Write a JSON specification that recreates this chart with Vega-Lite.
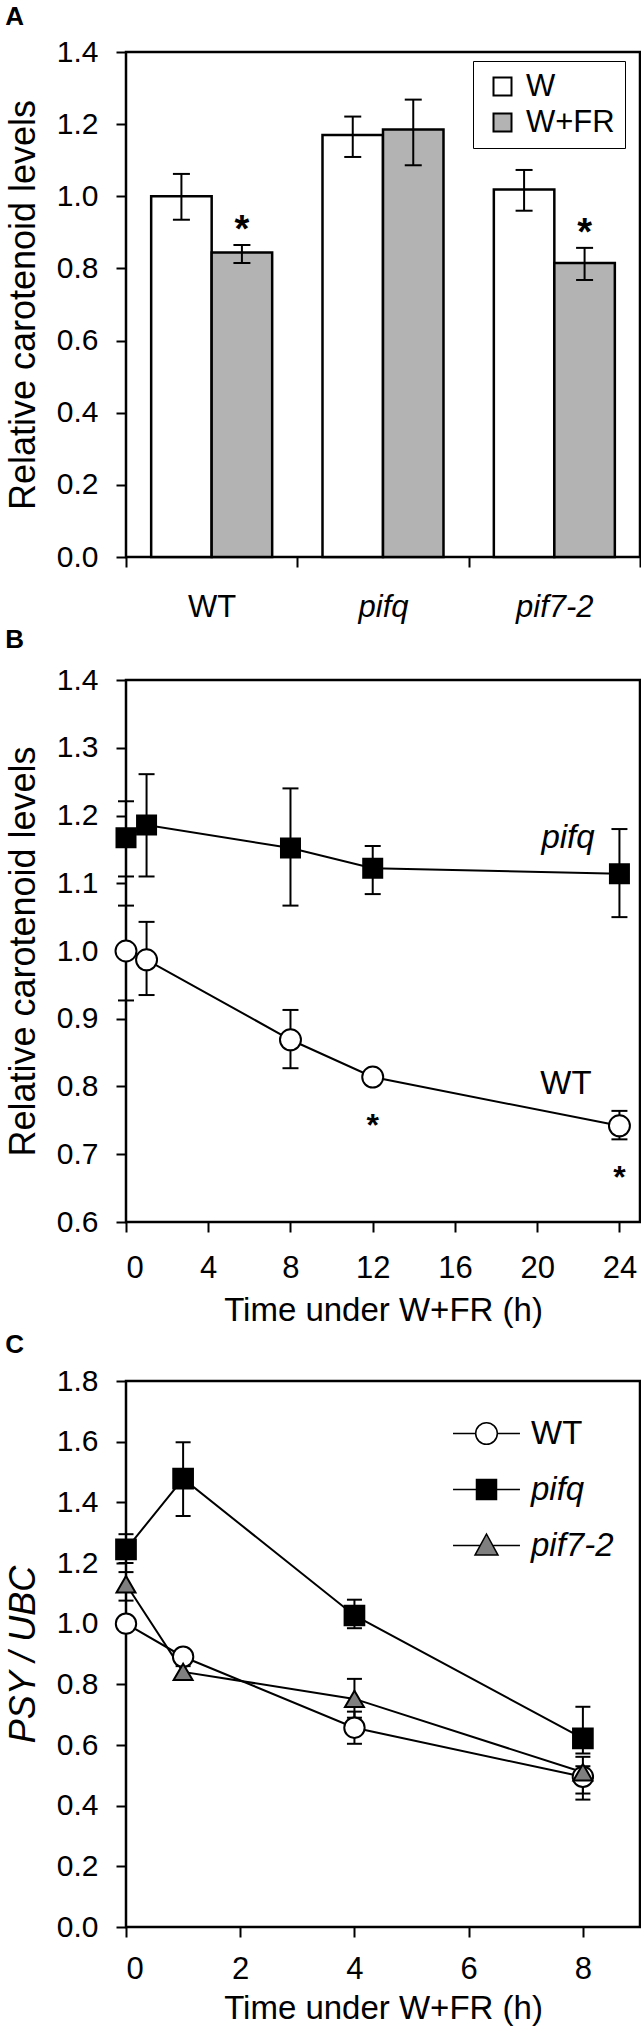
{
  "$schema": "https://vega.github.io/schema/vega-lite/v6.json",
  "background": "white",
  "padding": {"left": 4, "top": 2, "right": 0, "bottom": 0},
  "spacing": 1,
  "resolve": {"scale": {"fill": "independent", "shape": "independent", "size": "independent"}},
  "config": {
    "font": "Liberation Sans",
    "view": {"stroke": "black", "strokeWidth": 2.5},
    "axis": {"domain": false, "grid": false, "ticks": true, "tickColor": "black", "tickWidth": 2, "tickSize": 10, "labelFont": "Liberation Sans", "labelFontSize": 30, "labelColor": "black", "titleFont": "Liberation Sans", "titleFontWeight": "normal", "titleColor": "black"},
    "title": {"font": "Liberation Sans", "fontSize": 26, "fontWeight": "bold", "anchor": "start", "frame": "bounds", "color": "black", "baseline": "alphabetic"}
  },
  "datasets": {
    "bars": [
      {"genotype": "WT", "light": "W", "value": 1.0, "lo": 0.935, "hi": 1.062, "star": 0},
      {"genotype": "WT", "light": "W+FR", "value": 0.844, "lo": 0.815, "hi": 0.865, "star": 1},
      {"genotype": "pifq", "light": "W", "value": 1.17, "lo": 1.109, "hi": 1.221, "star": 0},
      {"genotype": "pifq", "light": "W+FR", "value": 1.185, "lo": 1.086, "hi": 1.268, "star": 0},
      {"genotype": "pif7-2", "light": "W", "value": 1.019, "lo": 0.96, "hi": 1.073, "star": 0},
      {"genotype": "pif7-2", "light": "W+FR", "value": 0.815, "lo": 0.768, "hi": 0.857, "star": 1}
    ],
    "timeB": [
      {"genotype": "pifq", "t": 0, "value": 1.167, "lo": 1.11, "hi": 1.221},
      {"genotype": "pifq", "t": 1, "value": 1.186, "lo": 1.11, "hi": 1.261},
      {"genotype": "pifq", "t": 8, "value": 1.152, "lo": 1.067, "hi": 1.24},
      {"genotype": "pifq", "t": 12, "value": 1.122, "lo": 1.084, "hi": 1.155},
      {"genotype": "pifq", "t": 24, "value": 1.114, "lo": 1.05, "hi": 1.18},
      {"genotype": "WT", "t": 0, "value": 1.0, "lo": 0.927, "hi": 1.067},
      {"genotype": "WT", "t": 1, "value": 0.987, "lo": 0.935, "hi": 1.043},
      {"genotype": "WT", "t": 8, "value": 0.869, "lo": 0.827, "hi": 0.913},
      {"genotype": "WT", "t": 12, "value": 0.814, "lo": 0.806, "hi": 0.822},
      {"genotype": "WT", "t": 24, "value": 0.742, "lo": 0.722, "hi": 0.764}
    ],
    "labelsB": [
      {"label": "pifq", "t": 21.5, "value": 1.167},
      {"label": "WT", "t": 21.4, "value": 0.803}
    ],
    "starsB": [
      {"t": 12, "value": 0.753},
      {"t": 24, "value": 0.677}
    ],
    "timeC": [
      {"genotype": "WT", "t": 0, "value": 1.0, "lo": 0.98, "hi": 1.02},
      {"genotype": "WT", "t": 1, "value": 0.891, "lo": 0.87, "hi": 0.91},
      {"genotype": "WT", "t": 4, "value": 0.657, "lo": 0.604, "hi": 0.71},
      {"genotype": "WT", "t": 8, "value": 0.495, "lo": 0.42, "hi": 0.53},
      {"genotype": "pifq", "t": 0, "value": 1.245, "lo": 1.2, "hi": 1.295},
      {"genotype": "pifq", "t": 1, "value": 1.478, "lo": 1.355, "hi": 1.598},
      {"genotype": "pifq", "t": 4, "value": 1.027, "lo": 0.985, "hi": 1.079},
      {"genotype": "pifq", "t": 8, "value": 0.622, "lo": 0.572, "hi": 0.726},
      {"genotype": "pif7-2", "t": 0, "value": 1.13, "lo": 1.076, "hi": 1.17},
      {"genotype": "pif7-2", "t": 1, "value": 0.841, "lo": 0.82, "hi": 0.86},
      {"genotype": "pif7-2", "t": 4, "value": 0.752, "lo": 0.69, "hi": 0.818},
      {"genotype": "pif7-2", "t": 8, "value": 0.51, "lo": 0.44, "hi": 0.561}
    ]
  },
  "vconcat": [
    {
      "title": {"text": "A", "offset": 7},
      "width": 514,
      "height": 505,
      "data": {"name": "bars"},
      "encoding": {
        "x": {"field": "genotype", "type": "nominal", "sort": ["WT", "pifq", "pif7-2"], "scale": {"paddingInner": 0, "paddingOuter": 0},
          "axis": {"title": null, "labelAngle": 0, "tickBand": "extent", "labelFontSize": 31, "labelPadding": 25,
            "labelFontStyle": {"expr": "datum.value == 'WT' ? 'normal' : 'italic'"}}},
        "xOffset": {"field": "light", "type": "nominal", "sort": ["W", "W+FR"], "scale": {"paddingInner": 0, "paddingOuter": 0.416}}
      },
      "layer": [
        {
          "mark": {"type": "bar", "stroke": "black", "strokeWidth": 2.5, "opacity": 1},
          "encoding": {
            "y": {"field": "value", "type": "quantitative", "title": "Relative carotenoid levels", "scale": {"domain": [0, 1.4], "nice": false},
              "axis": {"values": [0, 0.2, 0.4, 0.6, 0.8, 1.0, 1.2, 1.4], "format": ".1f", "titleFontSize": 36, "labelPadding": 18, "titlePadding": 14}},
            "fill": {"field": "light", "type": "nominal", "scale": {"domain": ["W", "W+FR"], "range": ["white", "#b3b3b3"]},
              "legend": {"title": null, "orient": "none", "legendX": 347, "legendY": 9, "symbolType": "square", "symbolSize": 324,
                "labelFontSize": 31, "labelFont": "Liberation Sans", "labelColor": "black", "labelOffset": 8, "padding": 10, "rowPadding": 4, "symbolOffset": 4,
                "strokeColor": "black", "symbolStrokeColor": "black", "symbolStrokeWidth": 2,
                "encode": {
                  "legend": {"strokeWidth": {"value": 2.5}},
                  "symbols": {"stroke": {"value": "black"}, "strokeWidth": {"value": 2}, "opacity": {"value": 1}}
                }}}
          }
        },
        {
          "mark": {"type": "rule", "color": "black", "strokeWidth": 2},
          "encoding": {
            "y": {"field": "lo", "type": "quantitative", "title": "Relative carotenoid levels", "scale": {"domain": [0, 1.4], "nice": false}},
            "y2": {"field": "hi"}
          }
        },
        {
          "mark": {"type": "tick", "color": "black", "thickness": 2, "size": 17, "opacity": 1, "orient": "horizontal"},
          "encoding": {"y": {"field": "lo", "type": "quantitative", "title": "Relative carotenoid levels", "scale": {"domain": [0, 1.4], "nice": false}}}
        },
        {
          "mark": {"type": "tick", "color": "black", "thickness": 2, "size": 17, "opacity": 1, "orient": "horizontal"},
          "encoding": {"y": {"field": "hi", "type": "quantitative", "title": "Relative carotenoid levels", "scale": {"domain": [0, 1.4], "nice": false}}}
        },
        {
          "transform": [{"filter": "datum.star == 1"}],
          "mark": {"type": "text", "text": "*", "fontSize": 38, "fontWeight": "bold", "font": "Liberation Sans", "baseline": "alphabetic", "align": "center", "dy": -3, "color": "black"},
          "encoding": {"y": {"field": "hi", "type": "quantitative", "title": "Relative carotenoid levels", "scale": {"domain": [0, 1.4], "nice": false}}}
        }
      ]
    },
    {
      "title": {"text": "B", "offset": 12},
      "width": 514,
      "height": 542,
      "data": {"name": "timeB"},
      "encoding": {
        "x": {"field": "t", "type": "quantitative", "title": "Time under W+FR (h)", "scale": {"domain": [0, 25], "nice": false},
          "axis": {"values": [0, 4, 8, 12, 16, 20, 24], "titleFontSize": 33, "labelFontSize": 31, "labelPadding": 21, "titlePadding": 11}}
      },
      "layer": [
        {
          "mark": {"type": "rule", "color": "black", "strokeWidth": 2},
          "encoding": {
            "y": {"field": "lo", "type": "quantitative", "title": "Relative carotenoid levels", "scale": {"domain": [0.6, 1.4], "nice": false},
              "axis": {"values": [0.6, 0.7, 0.8, 0.9, 1.0, 1.1, 1.2, 1.3, 1.4], "format": ".1f", "titleFontSize": 36, "labelPadding": 18, "titlePadding": 14}},
            "y2": {"field": "hi"}
          }
        },
        {
          "mark": {"type": "tick", "color": "black", "thickness": 2, "size": 16, "opacity": 1, "orient": "horizontal"},
          "encoding": {"y": {"field": "lo", "type": "quantitative", "title": "Relative carotenoid levels"}}
        },
        {
          "mark": {"type": "tick", "color": "black", "thickness": 2, "size": 16, "opacity": 1, "orient": "horizontal"},
          "encoding": {"y": {"field": "hi", "type": "quantitative", "title": "Relative carotenoid levels"}}
        },
        {
          "mark": {"type": "line", "color": "black", "strokeWidth": 2},
          "encoding": {
            "y": {"field": "value", "type": "quantitative", "title": "Relative carotenoid levels"},
            "detail": {"field": "genotype", "type": "nominal"}
          }
        },
        {
          "mark": {"type": "point", "filled": true, "stroke": "black", "strokeWidth": 2, "opacity": 1},
          "encoding": {
            "y": {"field": "value", "type": "quantitative", "title": "Relative carotenoid levels"},
            "shape": {"field": "genotype", "type": "nominal", "scale": {"domain": ["WT", "pifq"], "range": ["circle", "square"]}, "legend": null},
            "fill": {"field": "genotype", "type": "nominal", "scale": {"domain": ["WT", "pifq"], "range": ["white", "black"]}, "legend": null},
            "size": {"field": "genotype", "type": "nominal", "scale": {"domain": ["WT", "pifq"], "range": [440, 361]}, "legend": null}
          }
        },
        {
          "data": {"name": "labelsB"},
          "transform": [{"filter": "datum.label == 'pifq'"}],
          "mark": {"type": "text", "fontSize": 33, "fontStyle": "italic", "font": "Liberation Sans", "baseline": "middle", "align": "center", "color": "black"},
          "encoding": {
            "y": {"field": "value", "type": "quantitative", "title": "Relative carotenoid levels"},
            "text": {"field": "label"}
          }
        },
        {
          "data": {"name": "labelsB"},
          "transform": [{"filter": "datum.label == 'WT'"}],
          "mark": {"type": "text", "fontSize": 33, "font": "Liberation Sans", "baseline": "middle", "align": "center", "color": "black"},
          "encoding": {
            "y": {"field": "value", "type": "quantitative", "title": "Relative carotenoid levels"},
            "text": {"field": "label"}
          }
        },
        {
          "data": {"name": "starsB"},
          "mark": {"type": "text", "text": "*", "fontSize": 32, "fontWeight": "bold", "font": "Liberation Sans", "baseline": "alphabetic", "align": "center", "dy": 18, "color": "black"},
          "encoding": {"y": {"field": "value", "type": "quantitative", "title": "Relative carotenoid levels"}}
        }
      ]
    },
    {
      "title": {"text": "C", "offset": 8},
      "width": 514,
      "height": 546,
      "data": {"name": "timeC"},
      "encoding": {
        "x": {"field": "t", "type": "quantitative", "title": "Time under W+FR (h)", "scale": {"domain": [0, 9], "nice": false},
          "axis": {"values": [0, 2, 4, 6, 8], "titleFontSize": 33, "labelFontSize": 31, "labelPadding": 17, "titlePadding": 8}}
      },
      "resolve": {"scale": {"shape": "independent", "fill": "independent", "size": "independent"}},
      "layer": [
        {
          "mark": {"type": "rule", "color": "black", "strokeWidth": 2},
          "encoding": {
            "y": {"field": "lo", "type": "quantitative", "title": "PSY / UBC", "scale": {"domain": [0, 1.8], "nice": false},
              "axis": {"values": [0, 0.2, 0.4, 0.6, 0.8, 1.0, 1.2, 1.4, 1.6, 1.8], "format": ".1f", "titleFontSize": 36, "titleFontStyle": "italic", "labelPadding": 18, "titlePadding": 14}},
            "y2": {"field": "hi"}
          }
        },
        {
          "mark": {"type": "tick", "color": "black", "thickness": 2, "size": 15, "opacity": 1, "orient": "horizontal"},
          "encoding": {"y": {"field": "lo", "type": "quantitative", "title": "PSY / UBC"}}
        },
        {
          "mark": {"type": "tick", "color": "black", "thickness": 2, "size": 15, "opacity": 1, "orient": "horizontal"},
          "encoding": {"y": {"field": "hi", "type": "quantitative", "title": "PSY / UBC"}}
        },
        {
          "mark": {"type": "line", "color": "black", "strokeWidth": 2},
          "encoding": {
            "y": {"field": "value", "type": "quantitative", "title": "PSY / UBC"},
            "detail": {"field": "genotype", "type": "nominal"}
          }
        },
        {
          "mark": {"type": "point", "filled": true, "stroke": "black", "strokeWidth": 2, "opacity": 1},
          "encoding": {
            "y": {"field": "value", "type": "quantitative", "title": "PSY / UBC"},
            "shape": {"field": "genotype", "type": "nominal", "scale": {"domain": ["WT", "pifq", "pif7-2"], "range": ["circle", "square", "triangle-up"]}, "legend": null},
            "fill": {"field": "genotype", "type": "nominal", "scale": {"domain": ["WT", "pifq", "pif7-2"], "range": ["white", "black", "#7f7f7f"]}, "legend": null},
            "size": {"field": "genotype", "type": "nominal", "scale": {"domain": ["WT", "pifq", "pif7-2"], "range": [415, 361, 576]}, "legend": null}
          }
        },
        {
          "transform": [{"filter": "false"}],
          "mark": {"type": "point", "filled": true, "stroke": "black", "strokeWidth": 2, "opacity": 1},
          "encoding": {
            "y": {"field": "value", "type": "quantitative", "title": "PSY / UBC"},
            "shape": {"field": "genotype", "type": "nominal",
              "scale": {"domain": ["WT", "pifq", "pif7-2"], "range": [
                "M-2.91,0L-0.94,0M0.94,0L2.91,0M-0.94,0A0.94,0.94,0,1,1,0.94,0A0.94,0.94,0,1,1,-0.94,0Z",
                "M-2.91,0L-0.87,0M0.87,0L2.91,0M-0.87,-0.87L0.87,-0.87L0.87,0.87L-0.87,0.87Z",
                "M-2.91,0L-0.55,0M0.55,0L2.91,0M0,-1L1,0.83L-1,0.83Z"]},
              "legend": {"title": null, "orient": "none", "legendX": 344, "legendY": 36, "symbolSize": 529,
                "labelFontSize": 33, "labelFont": "Liberation Sans", "labelColor": "black", "labelOffset": 28, "rowPadding": 22, "padding": 0,
                "labelFontStyle": {"expr": "datum.label == 'WT' ? 'normal' : 'italic'"}}},
            "fill": {"field": "genotype", "type": "nominal", "scale": {"domain": ["WT", "pifq", "pif7-2"], "range": ["white", "black", "#7f7f7f"]},
              "legend": {"title": null, "orient": "none", "legendX": 344, "legendY": 36, "symbolSize": 529,
                "labelFontSize": 33, "labelFont": "Liberation Sans", "labelColor": "black", "labelOffset": 28, "rowPadding": 22, "padding": 0,
                "labelFontStyle": {"expr": "datum.label == 'WT' ? 'normal' : 'italic'"}}}
          }
        }
      ]
    }
  ]
}
